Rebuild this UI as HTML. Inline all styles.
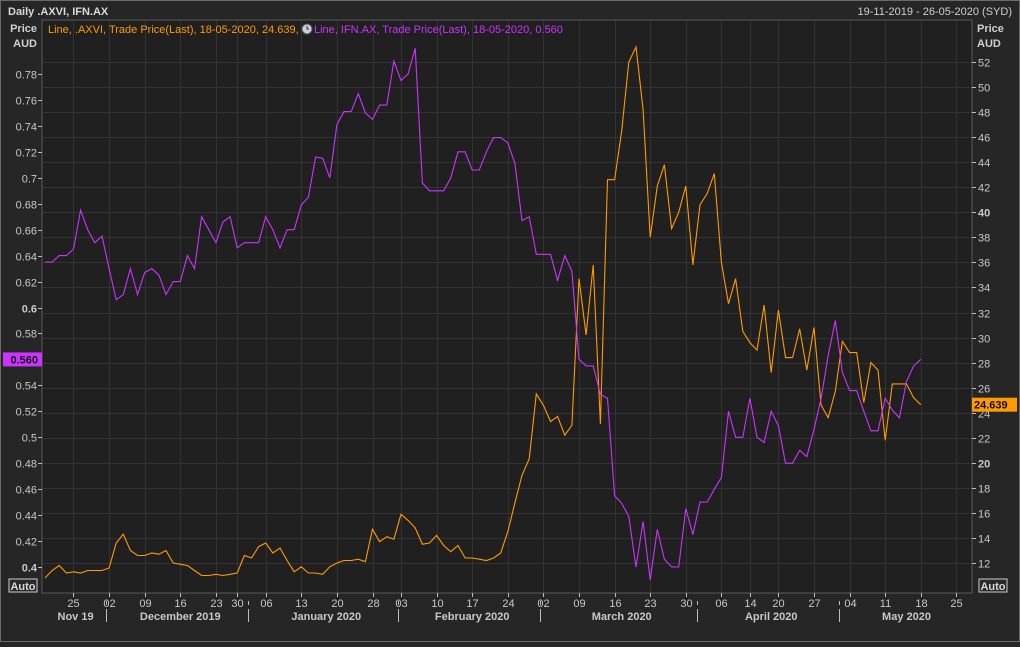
<!DOCTYPE html>
<html><head><meta charset="utf-8">
<style>
html,body{margin:0;padding:0;background:#262626;}
body{width:1020px;height:642px;overflow:hidden;font-family:"Liberation Sans",sans-serif;}
svg text{font-family:"Liberation Sans",sans-serif;}
</style></head>
<body>
<svg id="chart" width="1020" height="642" viewBox="0 0 1020 642" xmlns="http://www.w3.org/2000/svg">
<rect x="0" y="0" width="1020" height="642" fill="#262626"/>
<rect x="0.5" y="0.5" width="1019" height="641" fill="none" stroke="#6a6a6a"/>
<rect x="42" y="20" width="930" height="573" fill="#202020"/>
<g id="grid"></g>
<g id="series"></g>
<rect x="42" y="20" width="930" height="573" fill="none" stroke="#5a5a5a"/>
<g id="axes"></g>
<text x="8" y="15" font-size="11" font-weight="bold" fill="#d8d8d8">Daily .AXVI, IFN.AX</text>
<text x="1012" y="15" font-size="11" fill="#cfcfcf" text-anchor="end">19-11-2019 - 26-05-2020 (SYD)</text>
<text x="37" y="32" font-size="11" font-weight="bold" fill="#d0d0d0" text-anchor="end">Price</text>
<text x="37" y="47" font-size="11" font-weight="bold" fill="#d0d0d0" text-anchor="end">AUD</text>
<text x="977" y="32" font-size="11" font-weight="bold" fill="#d0d0d0">Price</text>
<text x="977" y="47" font-size="11" font-weight="bold" fill="#d0d0d0">AUD</text>
<g>
<text x="48" y="33" font-size="11" fill="#ff9a00">Line, .AXVI, Trade Price(Last), 18-05-2020, 24.639,</text>
<circle cx="307" cy="29" r="5" fill="#c8d0dc" stroke="#555"/>
<path d="M307 26 V29 H309" stroke="#333" fill="none"/>
<text x="314" y="33" font-size="11" fill="#cc33ff">Line, IFN.AX, Trade Price(Last), 18-05-2020, 0.560</text>
</g>
<g><rect x="9" y="579" width="28" height="13" fill="#2a2a2a" stroke="#cfcfcf"/><text x="23" y="590" font-size="11" font-weight="bold" fill="#d8d8d8" text-anchor="middle">Auto</text></g>
<g><rect x="979" y="579" width="28" height="13" fill="#2a2a2a" stroke="#cfcfcf"/><text x="993" y="590" font-size="11" font-weight="bold" fill="#d8d8d8" text-anchor="middle">Auto</text></g>
</svg>
<script>
const ifnValues = [0.635,0.635,0.64,0.64,0.645,0.675,0.66,0.65,0.655,0.63,
0.606,0.61,0.63,0.61,0.627,0.63,0.625,0.61,0.62,0.62,
0.64,0.63,0.67,0.66,0.65,0.666,0.67,0.646,0.65,0.65,
0.65,0.67,0.66,0.646,0.66,0.66,0.679,0.685,0.716,0.715,
0.70,0.741,0.751,0.751,0.765,0.75,0.745,0.756,0.756,0.79,
0.775,0.78,0.80,0.696,0.69,0.69,0.69,0.70,0.72,0.72,
0.706,0.706,0.72,0.731,0.731,0.727,0.711,0.667,0.67,0.641,
0.641,0.641,0.621,0.64,0.628,0.56,0.555,0.555,0.533,0.53,
0.455,0.449,0.439,0.40,0.435,0.39,0.429,0.406,0.40,0.40,
0.445,0.425,0.45,0.45,0.46,0.469,0.52,0.50,0.50,0.53,
0.50,0.496,0.52,0.509,0.48,0.48,0.49,0.485,0.506,0.53,
0.563,0.59,0.55,0.536,0.536,0.52,0.505,0.505,0.53,0.521,
0.515,0.543,0.555,0.56];
const axviValues = [10.8,11.4,11.8,11.2,11.3,11.2,11.4,11.4,11.4,11.6,
13.6,14.3,13.0,12.6,12.6,12.8,12.7,13.0,12.0,11.9,
11.8,11.4,11.0,11.0,11.1,11.0,11.1,11.2,12.6,12.4,
13.3,13.6,12.8,13.2,12.2,11.3,11.7,11.2,11.2,11.1,
11.7,12.0,12.2,12.2,12.3,12.1,14.7,13.7,14.1,13.9,
15.9,15.4,14.8,13.5,13.6,14.2,13.4,12.9,13.4,12.4,
12.4,12.3,12.2,12.4,12.8,14.5,16.8,19.0,20.3,25.5,
24.6,23.3,23.7,22.2,23.0,34.7,30.2,35.8,23.1,42.6,
42.6,46.5,52.0,53.2,48.2,38.0,42.1,43.8,38.7,40.0,
42.1,35.8,40.6,41.5,43.1,36.0,32.7,34.7,30.5,29.6,
29.0,32.6,27.2,32.2,28.4,28.4,30.7,27.4,30.8,24.6,
23.6,25.7,29.7,28.8,28.8,24.8,28.0,27.4,21.8,26.3,
26.3,26.3,25.2,24.639];
const dayTickIndex = [4,9,14,19,24,27,31,36,41,46,50,55,60,65,70,75,80,85,90,95,99,103,108,113,118,123,128];
const dayTickLabels = ["25","02","09","16","23","30","06","13","20","28","03","10","17","24","02","09","16","23","30","06","14","20","27","04","11","18","25"];
const monthLabels = ["Nov 19","December 2019","January 2020","February 2020","March 2020","April 2020","May 2020"];
const monthStartIndex = [-7,9,29,50,70,92,112];
const monthEndIndex = [9,29,50,70,92,112,130];
const leftTicks = [0.4,0.42,0.44,0.46,0.48,0.5,0.52,0.54,0.56,0.58,0.6,0.62,0.64,0.66,0.68,0.7,0.72,0.74,0.76,0.78];
const leftTickLabels = ["0.4","0.42","0.44","0.46","0.48","0.5","0.52","0.54","","0.58","0.6","0.62","0.64","0.66","0.68","0.7","0.72","0.74","0.76","0.78"];
const rightTicks = [12,14,16,18,20,22,24,26,28,30,32,34,36,38,40,42,44,46,48,50,52];

const NS="http://www.w3.org/2000/svg";
const X0=45, DX=7.12, PL=42, PR=972, PT=20, PB=593;
function xAt(i){return X0+DX*i;}
function yLeft(v){return 567-(v-0.4)/0.38*493;}
function yRight(v){return 563-(v-12)/40*501;}
function mk(tag,attrs,parent){const e=document.createElementNS(NS,tag);for(const k in attrs)e.setAttribute(k,attrs[k]);parent.appendChild(e);return e;}
const grid=document.getElementById('grid'), axes=document.getElementById('axes'), series=document.getElementById('series');
const chartLeft=document.getElementById('chart');

rightTicks.forEach(v=>{
  const y=Math.round(yRight(v))+0.5;
  const g=mk('line',{x1:PL,x2:PR,y1:y,y2:y,stroke:'#333333','stroke-width':1},grid);
  
  
  const t=mk('line',{x1:PR,x2:PR+4,y1:y,y2:y,stroke:'#bdbdbd'},axes);
  
  
  const bold=(v===20||v===40);
  const tx=mk('text',{x:PR+6,y:y+4,'font-size':11,fill:'#c8c8c8','font-weight':bold?'bold':'normal'},axes);
  tx.textContent=String(v);
  
  
});
leftTicks.forEach((v,k)=>{
  const y=Math.round(yLeft(v))+0.5;
  const t=mk('line',{x1:PL-4,x2:PL,y1:y,y2:y,stroke:'#bdbdbd'},axes);
  
  
  if(leftTickLabels[k]){
    const bold=(Math.abs(v-0.4)<1e-9||Math.abs(v-0.6)<1e-9);
    const tx=mk('text',{x:PL-5,y:y+4,'font-size':11,fill:'#c8c8c8','text-anchor':'end','font-weight':bold?'bold':'normal'},axes);
    tx.textContent=leftTickLabels[k];
    
    
  }
});
dayTickIndex.forEach((d,k)=>{
  const x=Math.round(xAt(d))+0.5;
  const g=mk('line',{x1:x,x2:x,y1:PT,y2:PB,stroke:'#333333'},grid);
  
  
  const t=mk('line',{x1:x,x2:x,y1:PB,y2:PB+4,stroke:'#bdbdbd'},axes);
  
  
  const tx=mk('text',{x:x,y:607,'font-size':11,fill:'#c8c8c8','text-anchor':'middle'},axes);
  tx.textContent=dayTickLabels[k];
  
  
});
monthLabels.forEach((m,k)=>{
  const a=Math.max(PL,xAt(monthStartIndex[k])), b=Math.min(PR,xAt(monthEndIndex[k]));
  const tx=mk('text',{x:(a+b)/2,y:620,'font-size':11,'font-weight':'bold',fill:'#c8c8c8','text-anchor':'middle'},axes);
  tx.textContent=m;
  
  
  if(k>0){
    const sx=Math.round(xAt(monthStartIndex[k])-3)+0.5;
    const s=mk('line',{x1:sx,x2:sx,y1:609,y2:622,stroke:'#bdbdbd'},axes);
    
    
    const s2=mk('line',{x1:sx,x2:sx,y1:PB+8,y2:PB+12,stroke:'#bdbdbd'},axes);
    
    
  }
});
function poly(vals,yf,color,name){
  const pts=vals.map((v,i)=>xAt(i).toFixed(1)+','+yf(v).toFixed(1)).join(' ');
  const p=mk('polyline',{points:pts,fill:'none',stroke:color,'stroke-width':1.1,'stroke-linejoin':'miter'},series);
  
  
}
poly(axviValues,yRight,'#ff9a00','axvi-line');
poly(ifnValues,yLeft,'#cc33ff','ifn-line');

const lastIfn=ifnValues[ifnValues.length-1], lastAxvi=axviValues[axviValues.length-1];
const ly=yLeft(lastIfn);
const lm=mk('rect',{x:3,y:ly-7,width:39,height:14,fill:'#cc33ff'},axes);


const lt=mk('text',{x:38,y:ly+4,'font-size':11,'font-weight':'bold',fill:'#111','text-anchor':'end'},axes);
lt.textContent=lastIfn.toFixed(3);


const ry=yRight(lastAxvi);
const rm=mk('rect',{x:972,y:ry-7,width:45,height:14,fill:'#ff9a00'},axes);


const rt=mk('text',{x:974,y:ry+4,'font-size':11,'font-weight':'bold',fill:'#111'},axes);
rt.textContent=lastAxvi.toFixed(3);


</script>
</body></html>
